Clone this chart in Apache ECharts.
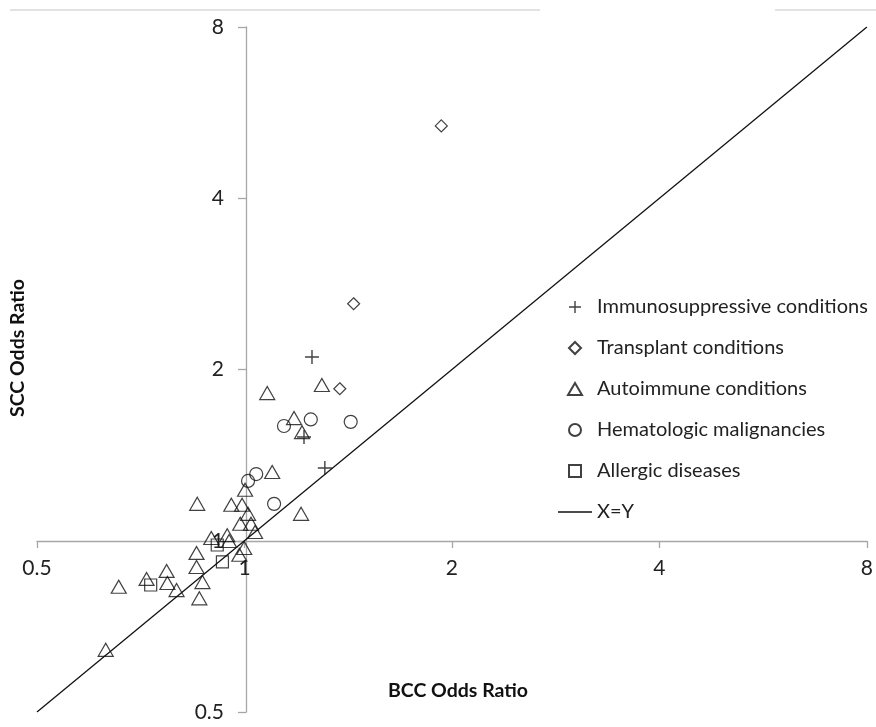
<!DOCTYPE html>
<html>
<head>
<meta charset="utf-8">
<script src="https://cdn.jsdelivr.net/npm/echarts@6/dist/echarts.min.js"></script>
<style>html,body{margin:0;padding:0;background:#fff;}#c{width:876px;height:727px;}</style>
</head>
<body>
<div id="c"></div>
<script>
// [BCC OR, SCC OR]
const immunosuppressive = [[1.253, 2.104], [1.220, 1.522], [1.308, 1.342]];
const transplant = [[1.93, 5.36], [1.44, 2.61], [1.375, 1.85]];
const autoimmune = [
  [0.629, 0.643], [0.657, 0.830], [0.721, 0.857], [0.771, 0.885], [0.773, 0.843],
  [0.797, 0.819], [0.854, 1.161], [0.852, 0.952], [0.852, 0.899], [0.869, 0.846],
  [0.860, 0.792], [0.957, 1.157], [0.992, 1.157], [1.002, 1.229], [1.012, 1.115],
  [0.986, 1.071], [1.022, 1.071], [1.036, 1.036], [0.944, 1.023], [0.950, 0.999],
  [0.999, 0.971], [0.983, 0.945], [1.097, 1.321], [1.208, 1.115], [1.079, 1.818],
  [1.295, 1.878], [1.180, 1.643], [1.212, 1.552], [0.895, 1.011]
];
const hematologic = [[1.248, 1.634], [1.141, 1.591], [1.426, 1.618], [1.040, 1.310], [1.012, 1.274], [1.104, 1.161]];
const allergic = [[0.731, 0.836], [0.929, 0.918], [0.913, 0.983]];
const identityLine = [[0.5, 0.5], [8, 8]];
const tickValues = [0.5, 1, 2, 4, 8];
const seriesNames = ['Immunosuppressive conditions', 'Transplant conditions', 'Autoimmune conditions', 'Hematologic malignancies', 'Allergic diseases', 'X=Y'];

const FONT = 'Lato';
const chart = echarts.init(document.getElementById('c'), null, {renderer: 'canvas'});
const hollow = {color: 'rgba(255,255,255,0)', borderColor: '#111', borderWidth: 1.2};
const fmt = v => {
  const r = Math.round(v * 1000) / 1000;
  return tickValues.indexOf(r) >= 0 ? String(r) : '';
};
const plusPath = 'path://M7,0L7,14M0,7L14,7';
const diamondPath = 'path://M6,0L12,6L6,12L0,6Z';
const trianglePath = 'path://M7,0L14,12L0,12Z';
const squarePath = 'path://M0,0L12,0L12,12L0,12Z';
chart.setOption({
  animation: false,
  grid: {left: 37, right: 6, top: 27, bottom: 15},
  xAxis: {
    type: 'log', logBase: 2, min: 0.5, max: 8,
    position: 'bottom', offset: -171,
    axisLine: {lineStyle: {color: '#a6a6a6', width: 1.3}},
    axisTick: {show: true, inside: false, length: 7, lineStyle: {color: '#a6a6a6', width: 1.3}},
    axisLabel: {formatter: fmt, color: '#222', fontFamily: FONT, fontSize: 21, margin: 17},
    splitLine: {show: false}, minorTick: {show: false}
  },
  yAxis: {
    type: 'log', logBase: 2, min: 0.5, max: 8,
    position: 'left', offset: -209,
    axisLine: {lineStyle: {color: '#a6a6a6', width: 1.3}},
    axisTick: {show: true, inside: false, length: 8, lineStyle: {color: '#a6a6a6', width: 1.3}},
    axisLabel: {formatter: fmt, color: '#222', fontFamily: FONT, fontSize: 21, margin: 22},
    splitLine: {show: false}, minorTick: {show: false}
  },
  legend: {
    orient: 'vertical', left: 558, top: 297, padding: 0,
    itemWidth: 34, itemHeight: 12, itemGap: 21,
    symbolKeepAspect: true,
    textStyle: {fontFamily: FONT, fontSize: 20, color: '#222'},
    data: [
      {name: seriesNames[0], icon: plusPath, itemStyle: {color: 'rgba(255,255,255,0)', borderColor: '#111', borderWidth: 1.4}},
      {name: seriesNames[1], icon: diamondPath},
      {name: seriesNames[2], icon: trianglePath},
      {name: seriesNames[3], icon: 'circle'},
      {name: seriesNames[4], icon: squarePath},
      {name: seriesNames[5], icon: 'path://M0,0L34,0L34,1.3L0,1.3Z', itemStyle: {color: '#111', borderWidth: 0}}
    ]
  },
  graphic: [
    {type: 'line', shape: {x1: 10, y1: 10, x2: 540, y2: 10}, style: {stroke: '#d9d9d9', lineWidth: 1.5}},
    {type: 'line', shape: {x1: 775, y1: 10, x2: 876, y2: 10}, style: {stroke: '#d9d9d9', lineWidth: 1.5}},
    {type: 'text', left: 388, top: 681, style: {text: 'BCC Odds Ratio', font: 'bold 19.5px Lato', fill: '#111'}},
    {type: 'text', x: 18, y: 348, rotation: Math.PI / 2,
      style: {text: 'SCC Odds Ratio', font: 'bold 19.5px Lato', fill: '#111', textAlign: 'center', textVerticalAlign: 'middle'}}
  ],
  series: [
    {name: seriesNames[0], type: 'scatter', data: immunosuppressive, symbol: plusPath, symbolSize: 14, symbolKeepAspect: true,
      itemStyle: {color: 'rgba(255,255,255,0)', borderColor: '#111', borderWidth: 1.4}},
    {name: seriesNames[1], type: 'scatter', data: transplant, symbol: 'diamond', symbolSize: 12, symbolKeepAspect: true, itemStyle: hollow},
    {name: seriesNames[2], type: 'scatter', data: autoimmune, symbol: 'triangle', symbolSize: [15, 13], itemStyle: hollow},
    {name: seriesNames[3], type: 'scatter', data: hematologic, symbol: 'circle', symbolSize: 13, itemStyle: hollow},
    {name: seriesNames[4], type: 'scatter', data: allergic, symbol: 'rect', symbolSize: 12, itemStyle: hollow},
    {name: seriesNames[5], type: 'line', data: identityLine, symbol: 'none', showSymbol: false,
      lineStyle: {color: '#111', width: 1.3}, itemStyle: {color: '#111'}, z: 1}
  ]
});
</script>
</body>
</html>
